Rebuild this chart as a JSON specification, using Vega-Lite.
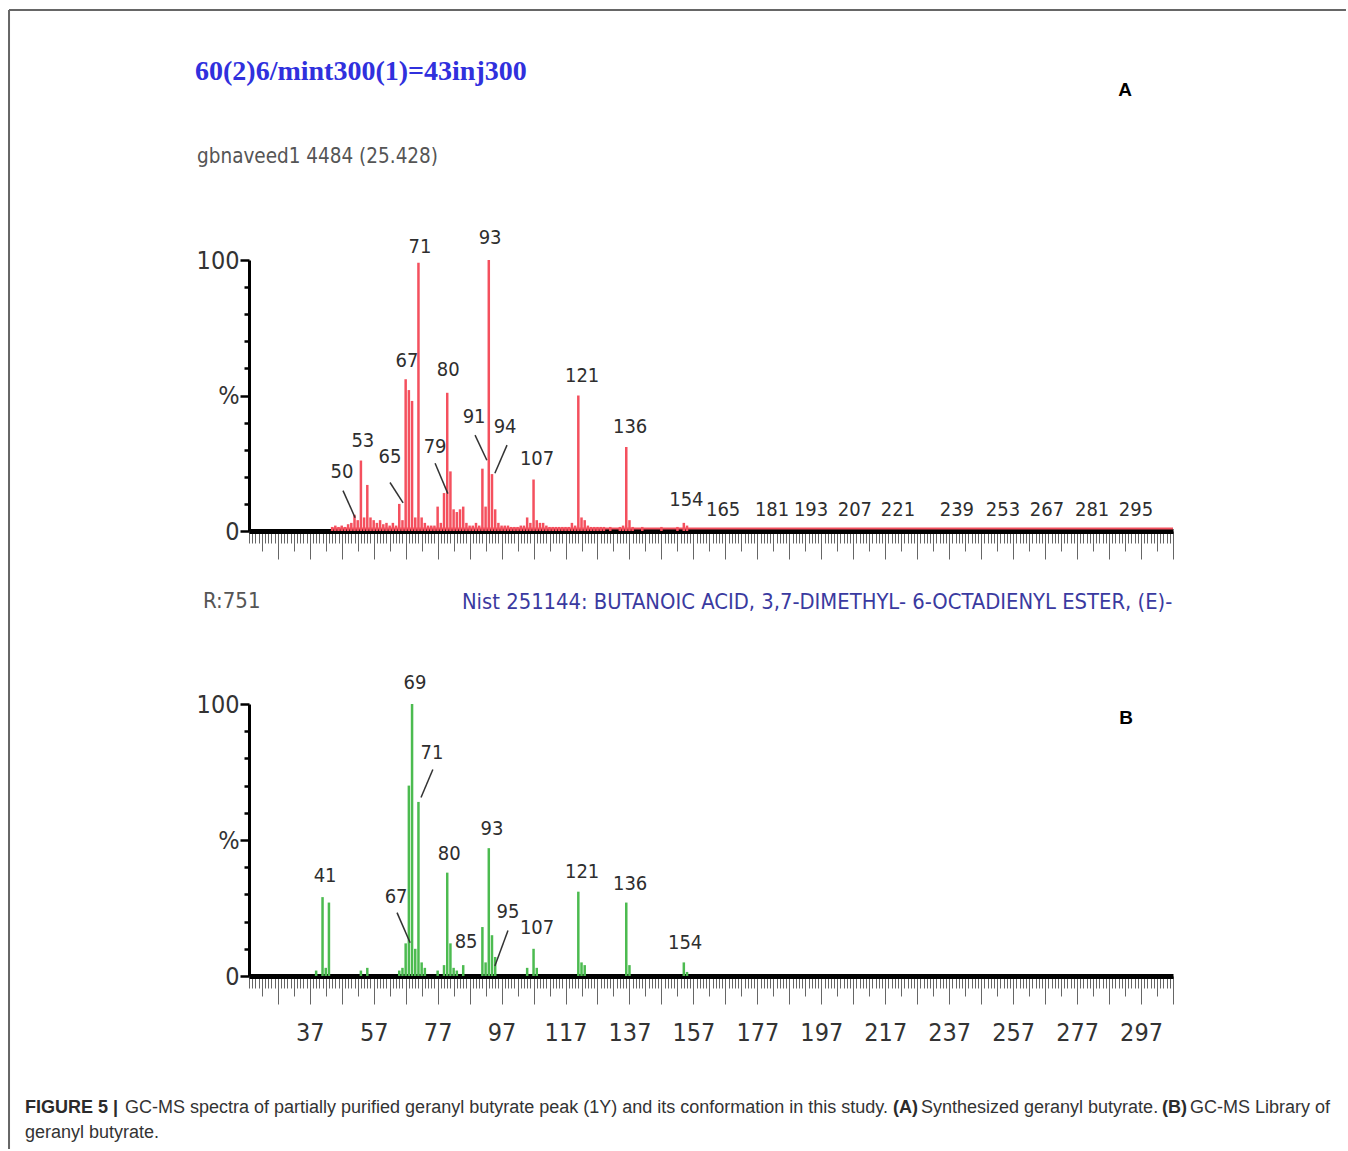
{
  "$schema": "https://vega.github.io/schema/vega-lite/v6.json",
  "background": "white",
  "padding": {"left": 8, "top": 9, "right": 0, "bottom": 0},
  "autosize": {"type": "pad"},
  "bounds": "flush",
  "spacing": 173,
  "config": {"view": {"stroke": null}},
  "datasets": {
    "one": [{}],
    "specA": [
      {"mz": 44, "ab": 1.5}, {"mz": 45, "ab": 2}, {"mz": 46, "ab": 1.5}, {"mz": 47, "ab": 2}, {"mz": 48, "ab": 1.5},
      {"mz": 49, "ab": 2.5}, {"mz": 50, "ab": 3}, {"mz": 51, "ab": 6}, {"mz": 52, "ab": 4}, {"mz": 53, "ab": 26},
      {"mz": 54, "ab": 5}, {"mz": 55, "ab": 17}, {"mz": 56, "ab": 5}, {"mz": 57, "ab": 4}, {"mz": 58, "ab": 3},
      {"mz": 59, "ab": 4}, {"mz": 60, "ab": 2.5}, {"mz": 61, "ab": 3}, {"mz": 62, "ab": 2}, {"mz": 63, "ab": 3},
      {"mz": 64, "ab": 2}, {"mz": 65, "ab": 10}, {"mz": 66, "ab": 4}, {"mz": 67, "ab": 56}, {"mz": 68, "ab": 52},
      {"mz": 69, "ab": 48}, {"mz": 70, "ab": 5}, {"mz": 71, "ab": 99}, {"mz": 72, "ab": 5}, {"mz": 73, "ab": 3},
      {"mz": 74, "ab": 2}, {"mz": 75, "ab": 2}, {"mz": 76, "ab": 2}, {"mz": 77, "ab": 9}, {"mz": 78, "ab": 3},
      {"mz": 79, "ab": 14}, {"mz": 80, "ab": 51}, {"mz": 81, "ab": 22}, {"mz": 82, "ab": 8}, {"mz": 83, "ab": 7},
      {"mz": 84, "ab": 8}, {"mz": 85, "ab": 9}, {"mz": 86, "ab": 3}, {"mz": 87, "ab": 2}, {"mz": 88, "ab": 2},
      {"mz": 89, "ab": 3}, {"mz": 90, "ab": 2}, {"mz": 91, "ab": 23}, {"mz": 92, "ab": 9}, {"mz": 93, "ab": 100},
      {"mz": 94, "ab": 21}, {"mz": 95, "ab": 8}, {"mz": 96, "ab": 3}, {"mz": 97, "ab": 2}, {"mz": 98, "ab": 2},
      {"mz": 99, "ab": 2}, {"mz": 100, "ab": 1.5}, {"mz": 101, "ab": 1.5}, {"mz": 102, "ab": 1.5}, {"mz": 103, "ab": 2},
      {"mz": 104, "ab": 2}, {"mz": 105, "ab": 5}, {"mz": 106, "ab": 3}, {"mz": 107, "ab": 19}, {"mz": 108, "ab": 4},
      {"mz": 109, "ab": 3}, {"mz": 110, "ab": 3}, {"mz": 111, "ab": 2}, {"mz": 112, "ab": 1.5}, {"mz": 113, "ab": 1.5},
      {"mz": 114, "ab": 1.5}, {"mz": 115, "ab": 1.5}, {"mz": 116, "ab": 1.5}, {"mz": 117, "ab": 1.5}, {"mz": 118, "ab": 1.5},
      {"mz": 119, "ab": 3}, {"mz": 120, "ab": 2}, {"mz": 121, "ab": 50}, {"mz": 122, "ab": 5}, {"mz": 123, "ab": 4},
      {"mz": 124, "ab": 2}, {"mz": 125, "ab": 1.5}, {"mz": 126, "ab": 1.5}, {"mz": 127, "ab": 1.5}, {"mz": 128, "ab": 1.5},
      {"mz": 129, "ab": 1.5}, {"mz": 131, "ab": 1.5}, {"mz": 134, "ab": 1.5}, {"mz": 135, "ab": 2}, {"mz": 136, "ab": 31},
      {"mz": 137, "ab": 4}, {"mz": 138, "ab": 1.5}, {"mz": 141, "ab": 1.5}, {"mz": 147, "ab": 1.5}, {"mz": 152, "ab": 1.5},
      {"mz": 154, "ab": 3}, {"mz": 155, "ab": 2}
    ],
    "specB": [
      {"mz": 39, "ab": 2}, {"mz": 41, "ab": 29}, {"mz": 42, "ab": 3}, {"mz": 43, "ab": 27}, {"mz": 53, "ab": 2},
      {"mz": 55, "ab": 3}, {"mz": 65, "ab": 2}, {"mz": 66, "ab": 3}, {"mz": 67, "ab": 12}, {"mz": 68, "ab": 70},
      {"mz": 69, "ab": 100}, {"mz": 70, "ab": 10}, {"mz": 71, "ab": 64}, {"mz": 72, "ab": 5}, {"mz": 73, "ab": 3},
      {"mz": 77, "ab": 2}, {"mz": 79, "ab": 4}, {"mz": 80, "ab": 38}, {"mz": 81, "ab": 12}, {"mz": 82, "ab": 3},
      {"mz": 83, "ab": 2}, {"mz": 85, "ab": 4}, {"mz": 91, "ab": 18}, {"mz": 92, "ab": 5}, {"mz": 93, "ab": 47},
      {"mz": 94, "ab": 15}, {"mz": 95, "ab": 7}, {"mz": 105, "ab": 3}, {"mz": 107, "ab": 10}, {"mz": 108, "ab": 3},
      {"mz": 121, "ab": 31}, {"mz": 122, "ab": 5}, {"mz": 123, "ab": 4}, {"mz": 136, "ab": 27}, {"mz": 137, "ab": 4},
      {"mz": 154, "ab": 5}, {"mz": 155, "ab": 1.5}
    ],
    "noiseA": [{"x1": 44, "x2": 307, "y": 0.9}],
    "labA": [
      {"t": "71", "lx": 71.5, "ly": 102.6}, {"t": "93", "lx": 93.4, "ly": 106},
      {"t": "67", "lx": 67.4, "ly": 60.4}, {"t": "80", "lx": 80.3, "ly": 57.1},
      {"t": "121", "lx": 122.2, "ly": 54.8}, {"t": "136", "lx": 137.2, "ly": 36.2},
      {"t": "53", "lx": 53.6, "ly": 31}, {"t": "50", "lx": 47.1, "ly": 19.4},
      {"t": "65", "lx": 62.1, "ly": 25}, {"t": "79", "lx": 76.2, "ly": 28.7},
      {"t": "91", "lx": 88.4, "ly": 39.9}, {"t": "94", "lx": 98.1, "ly": 36.2},
      {"t": "107", "lx": 108.1, "ly": 24.3}, {"t": "154", "lx": 154.8, "ly": 9.3},
      {"t": "165", "lx": 166.3, "ly": 5.6}, {"t": "181", "lx": 181.6, "ly": 5.6},
      {"t": "193", "lx": 193.8, "ly": 5.6}, {"t": "207", "lx": 207.5, "ly": 5.6},
      {"t": "221", "lx": 221, "ly": 5.6}, {"t": "239", "lx": 239.4, "ly": 5.6},
      {"t": "253", "lx": 253.8, "ly": 5.6}, {"t": "267", "lx": 267.6, "ly": 5.6},
      {"t": "281", "lx": 281.7, "ly": 5.6}, {"t": "295", "lx": 295.4, "ly": 5.6}
    ],
    "leadA": [
      {"x1": 47.4, "y1": 14.9, "x2": 51.2, "y2": 4.9},
      {"x1": 62.1, "y1": 17.9, "x2": 66.2, "y2": 10.4},
      {"x1": 76.2, "y1": 25, "x2": 80.2, "y2": 13.8},
      {"x1": 88.7, "y1": 35.4, "x2": 92.4, "y2": 26.1},
      {"x1": 98.7, "y1": 31.7, "x2": 94.9, "y2": 21.3}
    ],
    "labB": [
      {"t": "41", "lx": 41.8, "ly": 34.4}, {"t": "67", "lx": 64, "ly": 26.7},
      {"t": "69", "lx": 69.9, "ly": 105.6}, {"t": "71", "lx": 75.2, "ly": 79.6},
      {"t": "80", "lx": 80.6, "ly": 42.6}, {"t": "85", "lx": 85.9, "ly": 10.4},
      {"t": "93", "lx": 94, "ly": 51.9}, {"t": "95", "lx": 99, "ly": 21.5},
      {"t": "107", "lx": 108.1, "ly": 15.6}, {"t": "121", "lx": 122.2, "ly": 35.9},
      {"t": "136", "lx": 137.2, "ly": 31.5}, {"t": "154", "lx": 154.4, "ly": 10}
    ],
    "leadB": [
      {"x1": 64.3, "y1": 23.3, "x2": 68.4, "y2": 12.2},
      {"x1": 75.5, "y1": 75.9, "x2": 71.8, "y2": 65.6},
      {"x1": 99, "y1": 16.7, "x2": 94.9, "y2": 3.7}
    ],
    "frame": [
      {"x1": -57.06, "y1": 192.25, "x2": 361.1, "y2": 192.25},
      {"x1": -57.06, "y1": 192.25, "x2": -57.06, "y2": -228}
    ],
    "capBold": [
      {"t": "FIGURE 5 |", "x": -52.06, "y": -48.5},
      {"t": "(A)", "x": 219.42, "y": -48.5},
      {"t": "(B)", "x": 303.56, "y": -48.5}
    ],
    "capNormal": [
      {"t": "GC-MS spectra of partially purified geranyl butyrate peak (1Y) and its conformation in this study.", "x": -20.78, "y": -48.5},
      {"t": "Synthesized geranyl butyrate.", "x": 228.18, "y": -48.5},
      {"t": "GC-MS Library of", "x": 312.32, "y": -48.5},
      {"t": "geranyl butyrate.", "x": -52.06, "y": -57.7}
    ]
  },
  "vconcat": [
    {
      "width": 924,
      "height": 271,
      "layer": [
        {
          "data": {"name": "specA"},
          "mark": {"type": "rule", "color": "#f4505e", "strokeWidth": 2.5},
          "encoding": {
            "x": {"field": "mz", "type": "quantitative", "scale": {"domain": [18, 307], "nice": false, "zero": false},
              "axis": {"title": null, "tickCount": 290, "labels": false, "grid": false, "domainColor": "#000", "domainWidth": 5,
                "tickColor": "#666", "tickWidth": 1,
                "tickSize": {"expr": "datum.value % 10 === 7 ? 28 : (datum.value % 10 === 2 ? 20 : 12)"}}},
            "y": {"field": "ab", "type": "quantitative", "scale": {"domain": [0, 100], "nice": false, "zero": false},
              "axis": {"title": null, "tickCount": 10, "grid": false, "domainColor": "#000", "domainWidth": 3,
                "tickColor": "#000", "tickWidth": 2.5,
                "tickSize": {"expr": "datum.value % 50 === 0 ? 9 : 5"},
                "labelExpr": "datum.value === 0 ? '0' : datum.value === 50 ? '%' : datum.value === 100 ? '100' : ''",
                "labelFont": "DejaVu Sans Condensed, DejaVu Sans", "labelFontSize": 25,
                "labelColor": "#333", "labelPadding": 1, "labelOverlap": false, "labelFlush": false, "labelBaseline": "middle"}},
            "y2": {"datum": 0}
          }
        },
        {
          "data": {"name": "noiseA"},
          "mark": {"type": "rule", "color": "#f4505e", "strokeWidth": 2},
          "encoding": {
            "x": {"field": "x1", "type": "quantitative", "title": null},
            "x2": {"field": "x2"},
            "y": {"field": "y", "type": "quantitative", "title": null}
          }
        },
        {
          "data": {"name": "leadA"},
          "mark": {"type": "rule", "color": "#333", "strokeWidth": 1.5},
          "encoding": {
            "x": {"field": "x1", "type": "quantitative", "title": null},
            "x2": {"field": "x2"},
            "y": {"field": "y1", "type": "quantitative", "title": null},
            "y2": {"field": "y2"}
          }
        },
        {
          "data": {"name": "labA"},
          "mark": {"type": "text", "font": "DejaVu Sans Condensed, DejaVu Sans", "fontSize": 20, "color": "#2e2e2e", "align": "center", "baseline": "alphabetic"},
          "encoding": {
            "x": {"field": "lx", "type": "quantitative", "title": null},
            "y": {"field": "ly", "type": "quantitative", "title": null},
            "text": {"field": "t"}
          }
        },
        {
          "data": {"name": "frame"},
          "mark": {"type": "rule", "color": "#666", "strokeWidth": 2},
          "encoding": {
            "x": {"field": "x1", "type": "quantitative", "title": null},
            "x2": {"field": "x2"},
            "y": {"field": "y1", "type": "quantitative", "title": null},
            "y2": {"field": "y2"}
          }
        },
        {
          "data": {"name": "one"},
          "mark": {"type": "text", "font": "Liberation Serif", "fontWeight": "bold", "fontSize": 28, "color": "#3030dd", "align": "left", "baseline": "middle"},
          "encoding": {
            "x": {"datum": 1.11, "type": "quantitative"},
            "y": {"datum": 169.4, "type": "quantitative"},
            "text": {"value": "60(2)6/mint300(1)=43inj300"}
          }
        },
        {
          "data": {"name": "one"},
          "mark": {"type": "text", "font": "DejaVu Sans Condensed, DejaVu Sans", "fontSize": 20.5, "color": "#555", "align": "left", "baseline": "middle"},
          "encoding": {
            "x": {"datum": 1.74, "type": "quantitative"},
            "y": {"datum": 138, "type": "quantitative"},
            "text": {"value": "gbnaveed1 4484 (25.428)"}
          }
        },
        {
          "data": {"name": "one"},
          "mark": {"type": "text", "font": "Liberation Sans", "fontWeight": "bold", "fontSize": 19, "color": "#000", "align": "center", "baseline": "middle"},
          "encoding": {
            "x": {"datum": 292, "type": "quantitative"},
            "y": {"datum": 162.7, "type": "quantitative"},
            "text": {"value": "A"}
          }
        }
      ]
    },
    {
      "width": 924,
      "height": 272,
      "layer": [
        {
          "data": {"name": "specB"},
          "mark": {"type": "rule", "color": "#4cbb50", "strokeWidth": 2.5},
          "encoding": {
            "x": {"field": "mz", "type": "quantitative", "scale": {"domain": [18, 307], "nice": false, "zero": false},
              "axis": {"title": null, "tickCount": 290, "grid": false, "domainColor": "#000", "domainWidth": 5,
                "tickColor": "#666", "tickWidth": 1,
                "tickSize": {"expr": "datum.value % 10 === 7 ? 28 : (datum.value % 10 === 2 ? 20 : 12)"},
                "labelExpr": "(datum.value - 37) % 20 === 0 ? datum.label : ''",
                "labelFont": "DejaVu Sans Condensed, DejaVu Sans", "labelFontSize": 25,
                "labelColor": "#333", "labelPadding": 16, "labelOverlap": false, "labelFlush": false, "labelBound": false}},
            "y": {"field": "ab", "type": "quantitative", "scale": {"domain": [0, 100], "nice": false, "zero": false},
              "axis": {"title": null, "tickCount": 10, "grid": false, "domainColor": "#000", "domainWidth": 3,
                "tickColor": "#000", "tickWidth": 2.5,
                "tickSize": {"expr": "datum.value % 50 === 0 ? 9 : 5"},
                "labelExpr": "datum.value === 0 ? '0' : datum.value === 50 ? '%' : datum.value === 100 ? '100' : ''",
                "labelFont": "DejaVu Sans Condensed, DejaVu Sans", "labelFontSize": 25,
                "labelColor": "#333", "labelPadding": 1, "labelOverlap": false, "labelFlush": false, "labelBaseline": "middle"}},
            "y2": {"datum": 0}
          }
        },
        {
          "data": {"name": "leadB"},
          "mark": {"type": "rule", "color": "#333", "strokeWidth": 1.5},
          "encoding": {
            "x": {"field": "x1", "type": "quantitative", "title": null},
            "x2": {"field": "x2"},
            "y": {"field": "y1", "type": "quantitative", "title": null},
            "y2": {"field": "y2"}
          }
        },
        {
          "data": {"name": "labB"},
          "mark": {"type": "text", "font": "DejaVu Sans Condensed, DejaVu Sans", "fontSize": 20, "color": "#2e2e2e", "align": "center", "baseline": "alphabetic"},
          "encoding": {
            "x": {"field": "lx", "type": "quantitative", "title": null},
            "y": {"field": "ly", "type": "quantitative", "title": null},
            "text": {"field": "t"}
          }
        },
        {
          "data": {"name": "one"},
          "mark": {"type": "text", "font": "DejaVu Sans Condensed, DejaVu Sans", "fontSize": 22, "color": "#555", "align": "left", "baseline": "middle"},
          "encoding": {
            "x": {"datum": 3.61, "type": "quantitative"},
            "y": {"datum": 137.9, "type": "quantitative"},
            "text": {"value": "R:751"}
          }
        },
        {
          "data": {"name": "one"},
          "mark": {"type": "text", "font": "DejaVu Sans Condensed, DejaVu Sans", "fontSize": 21.8, "color": "#3a3aa0", "align": "left", "baseline": "middle"},
          "encoding": {
            "x": {"datum": 84.6, "type": "quantitative"},
            "y": {"datum": 137.5, "type": "quantitative"},
            "text": {"value": "Nist 251144: BUTANOIC ACID, 3,7-DIMETHYL-  6-OCTADIENYL ESTER, (E)-"}
          }
        },
        {
          "data": {"name": "one"},
          "mark": {"type": "text", "font": "Liberation Sans", "fontWeight": "bold", "fontSize": 19, "color": "#000", "align": "center", "baseline": "middle"},
          "encoding": {
            "x": {"datum": 292.3, "type": "quantitative"},
            "y": {"datum": 94.9, "type": "quantitative"},
            "text": {"value": "B"}
          }
        },
        {
          "data": {"name": "capBold"},
          "mark": {"type": "text", "font": "Liberation Sans", "fontWeight": "bold", "fontSize": 18, "color": "#2b2b2b", "align": "left", "baseline": "middle"},
          "encoding": {
            "x": {"field": "x", "type": "quantitative", "title": null},
            "y": {"field": "y", "type": "quantitative", "title": null},
            "text": {"field": "t"}
          }
        },
        {
          "data": {"name": "capNormal"},
          "mark": {"type": "text", "font": "Liberation Sans", "fontSize": 18, "color": "#333", "align": "left", "baseline": "middle"},
          "encoding": {
            "x": {"field": "x", "type": "quantitative", "title": null},
            "y": {"field": "y", "type": "quantitative", "title": null},
            "text": {"field": "t"}
          }
        }
      ]
    }
  ]
}
